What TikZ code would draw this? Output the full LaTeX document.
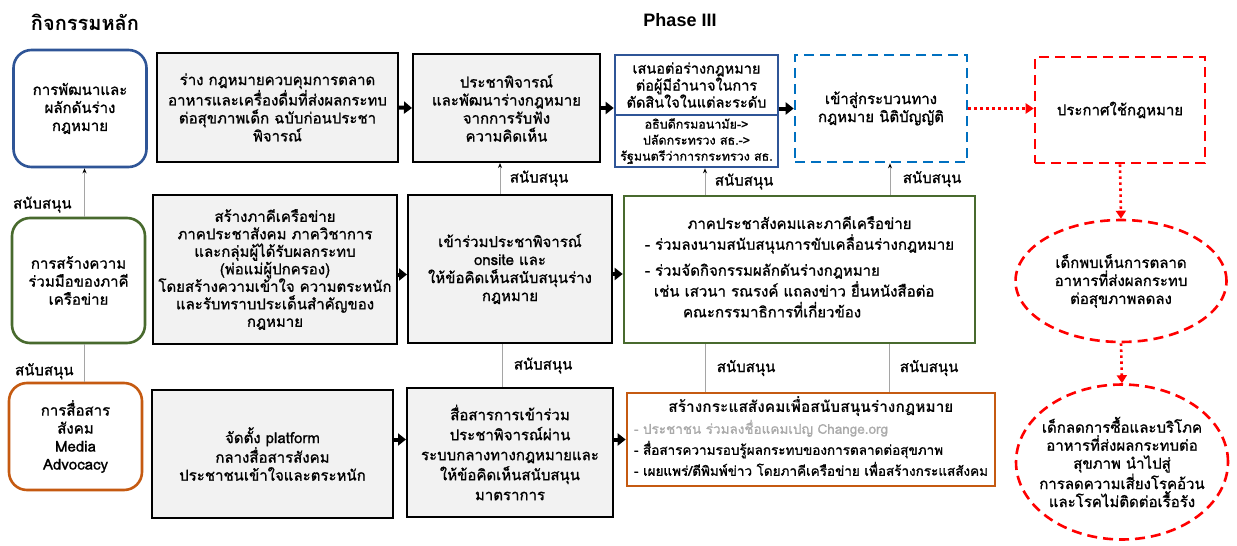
\documentclass[tikz,border=0pt]{standalone}
\usepackage{fontspec}
\setmainfont[Script=Thai, UprightFeatures={FakeBold=1.1}]{Loma}
\newfontfamily\latinhead{Liberation Sans}
\usetikzlibrary{arrows.meta,shapes.geometric}

\definecolor{boxgray}{RGB}{242,242,242}
\definecolor{planblue}{RGB}{47,85,151}
\definecolor{dashblue}{RGB}{0,112,192}
\definecolor{netgreen}{RGB}{72,106,46}
\definecolor{mediaorange}{RGB}{197,90,17}
\definecolor{linkgray}{RGB}{165,165,165}
\definecolor{notegray}{RGB}{170,170,170}

\tikzset{
    txt/.style={font=\fontsize{15}{18}\selectfont, align=center},
    mainbox/.style={txt, rounded corners=18pt, line width=2.6pt, minimum width=133pt},
    stepbox/.style={txt, draw=black, fill=boxgray, line width=2pt},
    flow/.style={-{Triangle[length=8pt,width=12pt]}, line width=4pt},
    redflow/.style={red, line width=2.6pt, dash pattern=on 2.6pt off 3.4pt, -{Triangle[length=8pt,width=10pt]}},
    support/.style={draw=linkgray, line width=1pt},
    supporttip/.style={support, -{Stealth[black,length=5pt,width=4pt]}},
    lbl/.style={font=\fontsize{15}{16}\selectfont, text=black},
    outcome/.style={draw=red, dash pattern=on 10pt off 6pt, line width=2.6pt},
}

\begin{document}
\begin{tikzpicture}[x=1pt, y=-1pt]
    \path[use as bounding box, fill=white] (0, 0) rectangle (1237, 546);

    % headings
    \node[font=\fontsize{20}{22}\selectfont\bfseries] (mainhead) at (85, 22) {กิจกรรมหลัก};
    \node[font=\fontsize{18}{22}\selectfont\latinhead\bfseries] (phasehead) at (680, 20) {Phase III};

    % main activities
    \node[mainbox, draw=planblue, minimum height=117pt] (L1) at (80, 108.5) {การพัฒนาและ\\ผลักดันร่าง\\กฎหมาย};
    \node[mainbox, draw=netgreen, minimum height=125pt] (L2) at (78.5, 280.5) {การสร้างความ\\ร่วมมือของภาคี\\เครือข่าย};
    \node[mainbox, draw=mediaorange, minimum height=107pt] (L3) at (75.5, 436.5) {การสื่อสาร\\สังคม\\Media\\Advocacy};

    % row 1: law drafting
    \node[stepbox, minimum width=241pt, minimum height=109pt] (A1) at (277.5, 107.5) {ร่าง กฎหมายควบคุมการตลาด\\อาหารและเครื่องดื่มที่ส่งผลกระทบ\\ต่อสุขภาพเด็ก ฉบับก่อนประชา\\พิจารณ์};
    \node[stepbox, minimum width=187pt, minimum height=108pt] (A2) at (506.5, 108) {ประชาพิจารณ์\\และพัฒนาร่างกฎหมาย\\จากการรับฟัง\\ความคิดเห็น};
    \node[txt, draw=planblue, line width=2.6pt, minimum width=163pt, minimum height=60pt, inner sep=1pt, font=\fontsize{14.5}{17}\selectfont] (A3top) at (696.5, 85) {เสนอต่อร่างกฎหมาย\\ต่อผู้มีอำนาจในการ\\ตัดสินใจในแต่ละระดับ};
    \node[txt, draw=planblue, line width=2.6pt, minimum width=163pt, minimum height=52pt, inner sep=1pt, font=\fontsize{12.5}{16}\selectfont] (A3bot) at (696.5, 141) {อธิบดีกรมอนามัย->\\ปลัดกระทรวง สธ.->\\รัฐมนตรีว่าการกระทรวง สธ.};
    \node[txt, draw=dashblue, dash pattern=on 10pt off 6pt, line width=2.6pt, minimum width=172pt, minimum height=107pt] (A4) at (881, 108.5) {เข้าสู่กระบวนทาง\\กฎหมาย นิติบัญญัติ};
    \node[txt, outcome, minimum width=170pt, minimum height=106pt] (A5) at (1120, 110) {ประกาศใช้กฎหมาย};

    % row 2: network
    \node[stepbox, minimum width=244pt, minimum height=149pt, inner sep=1pt, font=\fontsize{15}{17.5}\selectfont] (B1) at (275, 269.5) {สร้างภาคีเครือข่าย\\ภาคประชาสังคม ภาควิชาการ\\และกลุ่มผู้ได้รับผลกระทบ\\(พ่อแม่ผู้ปกครอง)\\โดยสร้างความเข้าใจ ความตระหนัก\\และรับทราบประเด็นสำคัญของ\\กฎหมาย};
    \node[stepbox, minimum width=204pt, minimum height=148pt] (B2) at (510, 269) {เข้าร่วมประชาพิจารณ์\\onsite และ\\ให้ข้อคิดเห็นสนับสนุนร่าง\\กฎหมาย};
    \node[txt, draw=netgreen, line width=2.6pt, minimum width=351pt, minimum height=147pt] (B3) at (799.5, 269.5) {\begin{tabular}{@{}l@{}}
        \multicolumn{1}{@{}c@{}}{ภาคประชาสังคมและภาคีเครือข่าย}\\
        - ร่วมลงนามสนับสนุนการขับเคลื่อนร่างกฎหมาย\\[8pt]
        - ร่วมจัดกิจกรรมผลักดันร่างกฎหมาย\\
        \hspace{9pt}เช่น เสวนา รณรงค์ แถลงข่าว ยื่นหนังสือต่อ\\
        \hspace{38pt}คณะกรรมาธิการที่เกี่ยวข้อง
    \end{tabular}};

    % row 3: media
    \node[stepbox, minimum width=241pt, minimum height=128pt] (C1) at (272.5, 454) {จัดตั้ง platform\\กลางสื่อสารสังคม\\ประชาชนเข้าใจและตระหนัก};
    \node[stepbox, minimum width=206pt, minimum height=129pt, font=\fontsize{15}{20}\selectfont] (C2) at (510, 452.5) {สื่อสารการเข้าร่วม\\ประชาพิจารณ์ผ่าน\\ระบบกลางทางกฎหมายและ\\ให้ข้อคิดเห็นสนับสนุน\\มาตราการ};
    \node[txt, draw=mediaorange, line width=2.6pt, minimum width=368pt, minimum height=93pt, inner sep=1pt, font=\fontsize{13.5}{21}\selectfont] (C3) at (811, 439.5) {\begin{tabular}{@{}l@{}}
        \multicolumn{1}{@{}c@{}}{\fontsize{15.5}{21}\selectfont\bfseries สร้างกระแสสังคมเพื่อสนับสนุนร่างกฎหมาย}\\
        \textcolor{notegray}{- ประชาชน ร่วมลงชื่อแคมเปญ Change.org}\\
        - สื่อสารความรอบรู้ผลกระทบของการตลาดต่อสุขภาพ\\
        - เผยแพร่/ตีพิมพ์ข่าว โดยภาคีเครือข่าย เพื่อสร้างกระแสสังคม
    \end{tabular}};

    % outcomes
    \node[ellipse, outcome, minimum width=211pt, minimum height=122pt] (E1) at (1121, 281) {};
    \node[txt] (E1text) at (E1.center) {เด็กพบเห็นการตลาด\\อาหารที่ส่งผลกระทบ\\ต่อสุขภาพลดลง};
    \node[ellipse, outcome, minimum width=212pt, minimum height=155pt] (E2) at (1122, 462) {};
    \node[txt] (E2text) at (E2.center) {เด็กลดการซื้อและบริโภค\\อาหารที่ส่งผลกระทบต่อ\\สุขภาพ นำไปสู่\\การลดความเสี่ยงโรคอ้วน\\และโรคไม่ติดต่อเรื้อรัง};

    % flow arrows
    \draw[flow] (A1.east) -- (A2.west);
    \draw[flow] (A2.east) -- (A2.east -| A3top.west);
    \draw[flow] (A3top.east |- A4.west) -- (A4.west);
    \draw[flow] ([yshift=-5pt]B1.east) -- ([yshift=-5pt]B1.east -| B2.west);
    \draw[flow] ([yshift=-5pt]B2.east) -- ([yshift=-5pt]B2.east -| B3.west);
    \draw[flow] (C1.east |- C3.west) -- (C2.west |- C3.west);
    \draw[flow] (C2.east |- C3.west) -- (C3.west);

    \draw[redflow] (A4.east) -- (A4.east -| A5.west);
    \draw[redflow] (A5.south) -- (E1.north);
    \draw[redflow] (E1.south) -- (E2.north);

    % support links
    \draw[supporttip] ([xshift=6pt]L2.north) -- ([xshift=6pt]L2.north |- L1.south) node[pos=0.25, left=9pt, lbl] (supL1) {สนับสนุน};
    \draw[support] ([xshift=6pt]L2.south) -- ([xshift=6pt]L2.south |- L3.north) node[pos=0.72, left=7pt, lbl] (supL2) {สนับสนุน};
    \draw[supporttip] ([xshift=-10pt]B2.north) -- ([xshift=-10pt]B2.north |- A2.south) node[midway, right=6pt, lbl] (supA2) {สนับสนุน};
    \draw[supporttip] ([xshift=-94.5pt]B3.north) -- ([xshift=-94.5pt]B3.north |- A3bot.south) node[midway, right=6pt, lbl] (supA3) {สนับสนุน};
    \draw[supporttip] ([xshift=90.5pt]B3.north) -- ([xshift=90.5pt]B3.north |- A4.south) node[midway, right=9pt, lbl] (supA4) {สนับสนุน};
    \draw[support] ([xshift=-8pt]B2.south) -- ([xshift=-8pt]B2.south |- C2.north) node[midway, right=8pt, lbl] (supC2) {สนับสนุน};
    \draw[support] ([xshift=-94.5pt]B3.south) -- ([xshift=-94.5pt]B3.south |- C3.north) node[midway, right=8pt, lbl] (supC3a) {สนับสนุน};
    \draw[support] ([xshift=89.5pt]B3.south) -- ([xshift=89.5pt]B3.south |- C3.north) node[midway, right=7pt, lbl] (supC3b) {สนับสนุน};
\end{tikzpicture}
\end{document}
